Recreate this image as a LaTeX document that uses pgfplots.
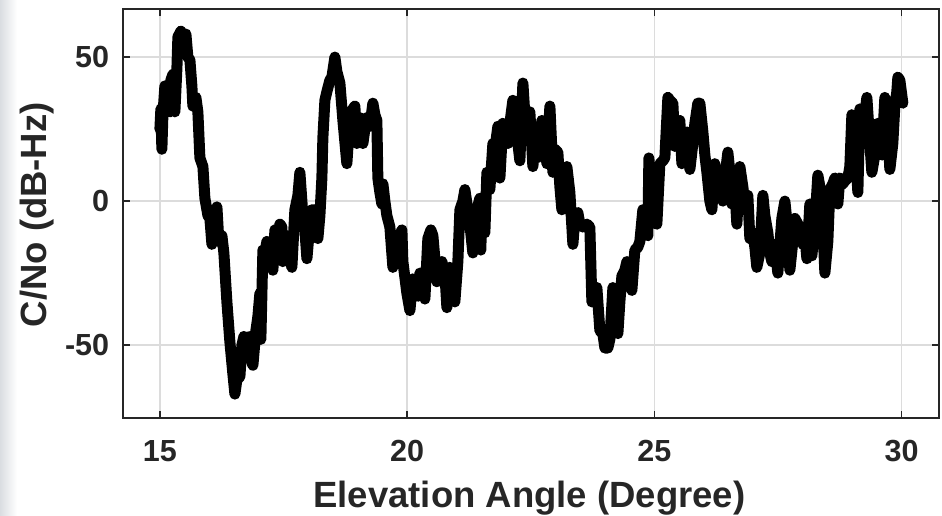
\documentclass[border=0pt]{standalone}
\usepackage{pgfplots}
\pgfplotsset{compat=1.18}
\usepackage{fontspec}
\setmainfont{Liberation Sans}
\definecolor{axgray}{HTML}{262626}
\definecolor{gridgray}{HTML}{DCDCDC}
\definecolor{stripgray}{HTML}{DADDE1}
\begin{document}
\begin{tikzpicture}
\fill[left color=stripgray, right color=white] (0bp,0bp) rectangle (17bp,516bp);
\begin{axis}[
  at={(123.3bp,98bp)}, anchor=south west,
  scale only axis, width=815.4bp, height=409bp,
  xmin=14.26, xmax=30.75, ymin=-75.3, ymax=66.7,
  xtick={15,20,25,30}, ytick={-50,0,50},
  xtick pos=both, ytick pos=both,
  xticklabel pos=lower, yticklabel pos=left,
  tick align=inside, major tick length=7bp,
  every tick/.style={axgray, line width=1.6bp},
  axis line style={axgray, line width=1.8bp},
  grid=major, major grid style={gridgray, line width=1.5bp},
  /pgf/number format/assume math mode=true,
  ticklabel style={font=\fontsize{30.5bp}{36bp}\selectfont\bfseries, text=axgray},
  xticklabel style={anchor=base, yshift=-43bp},
  yticklabel style={anchor=east, inner sep=0pt, xshift=-14bp},
  xlabel={Elevation Angle (Degree)},
  ylabel={C/No (dB-Hz)},
  label style={font=\fontsize{36.5bp}{42bp}\selectfont\bfseries, text=axgray},
  xlabel style={at={(axis description cs:0.498,-0.218)}, anchor=base},
  ylabel style={at={(axis description cs:-0.106,0.497)}, anchor=center, rotate=0},
]
\addplot[black, line width=11bp, line join=round, line cap=round] table {
x y
15.000 25
15.020 32
15.040 18
15.061 30
15.101 40
15.142 33
15.202 31
15.222 42
15.263 44
15.303 31
15.344 46
15.364 57
15.425 59
15.485 52
15.526 58
15.566 50
15.607 49
15.647 40
15.667 33
15.728 36
15.768 31
15.809 15
15.870 12
15.910 1
15.971 -5
16.011 -6
16.052 -15
16.112 -10
16.153 -2
16.193 -14
16.254 -12
16.294 -18
16.355 -35
16.416 -49
16.476 -60
16.517 -67
16.557 -62
16.618 -61
16.658 -50
16.699 -47
16.759 -50
16.820 -47
16.860 -56
16.881 -57
16.941 -45
16.982 -40
17.022 -32
17.042 -48
17.083 -17
17.123 -18
17.164 -14
17.224 -16
17.285 -24
17.326 -10
17.386 -12
17.427 -8
17.467 -9
17.487 -21
17.568 -12
17.629 -20
17.669 -23
17.730 -3
17.791 2
17.831 10
17.892 -5
17.932 -10
17.973 -20
18.033 -8
18.074 -3
18.134 -3
18.195 -13
18.236 -5
18.276 8
18.296 22
18.337 35
18.377 38
18.438 42
18.478 43
18.539 50
18.579 45
18.640 41
18.701 28
18.781 13
18.842 29
18.903 32
18.943 33
18.984 20
19.044 29
19.105 20
19.146 25
19.186 29
19.247 26
19.307 34
19.348 30
19.388 28
19.408 8
19.449 3
19.489 -1
19.510 6
19.550 0
19.590 -5
19.651 -9
19.712 -23
19.752 -18
19.813 -14
19.894 -10
19.914 -21
19.995 -32
20.056 -38
20.116 -27
20.157 -30
20.217 -33
20.258 -25
20.298 -25
20.359 -34
20.419 -13
20.480 -10
20.521 -12
20.561 -20
20.601 -28
20.662 -24
20.703 -21
20.763 -25
20.804 -37
20.864 -23
20.925 -28
20.965 -35
21.026 -21
21.067 -3
21.127 0
21.168 4
21.228 -3
21.269 -8
21.329 -18
21.370 -10
21.410 -3
21.471 1
21.491 -17
21.511 1
21.572 -11
21.613 10
21.673 4
21.734 20
21.774 18
21.835 26
21.876 8
21.936 27
21.977 25
22.037 20
22.078 27
22.138 35
22.219 23
22.280 14
22.341 41
22.381 30
22.421 23
22.482 31
22.543 12
22.583 20
22.624 15
22.684 22
22.725 28
22.785 20
22.826 13
22.887 33
22.947 10
22.988 18
23.048 17
23.089 5
23.129 -3
23.190 5
23.230 12
23.291 3
23.352 -15
23.392 -6
23.453 -4
23.493 -8
23.554 -9
23.635 -8
23.695 -9
23.736 -35
23.797 -35
23.837 -30
23.898 -45
23.958 -46
23.999 -51
24.059 -51
24.100 -48
24.161 -30
24.201 -40
24.262 -46
24.302 -35
24.343 -26
24.403 -24
24.444 -21
24.504 -28
24.545 -31
24.605 -17
24.666 -16
24.706 -14
24.767 -3
24.808 -5
24.848 -11
24.868 -12
24.889 15
24.949 0
25.010 -5
25.050 -8
25.111 13
25.172 14
25.212 15
25.273 36
25.313 35
25.374 34
25.414 19
25.455 25
25.515 28
25.556 13
25.617 20
25.657 24
25.718 11
25.778 20
25.819 27
25.879 34
25.920 34
25.981 24
26.021 16
26.062 10
26.122 0
26.163 -3
26.223 13
26.284 4
26.324 6
26.385 0
26.425 8
26.486 17
26.527 10
26.567 -1
26.628 4
26.668 -8
26.729 12
26.789 5
26.830 -1
26.890 2
26.931 -13
26.991 -11
27.032 -16
27.072 -23
27.133 -18
27.194 2
27.234 -5
27.295 -11
27.335 -18
27.376 -21
27.436 -15
27.497 -25
27.538 -15
27.578 -6
27.639 0
27.699 -10
27.740 -24
27.800 -14
27.841 -6
27.902 -8
27.942 -9
28.003 -15
28.043 -12
28.084 -20
28.144 -1
28.185 -19
28.245 -8
28.306 9
28.347 5
28.387 0
28.448 -25
28.508 -14
28.549 4
28.609 6
28.650 8
28.710 -1
28.751 8
28.811 6
28.852 7
28.913 8
28.953 12
28.994 30
29.054 22
29.115 3
29.155 32
29.216 25
29.256 30
29.297 36
29.358 20
29.398 10
29.459 16
29.519 27
29.560 20
29.600 16
29.661 36
29.721 25
29.762 11
29.822 20
29.863 33
29.903 38
29.924 43
29.964 42
30.025 34
};
\end{axis}
\pgfresetboundingbox
\path (0bp,0bp) rectangle (942bp,516bp);
\end{tikzpicture}
\end{document}
